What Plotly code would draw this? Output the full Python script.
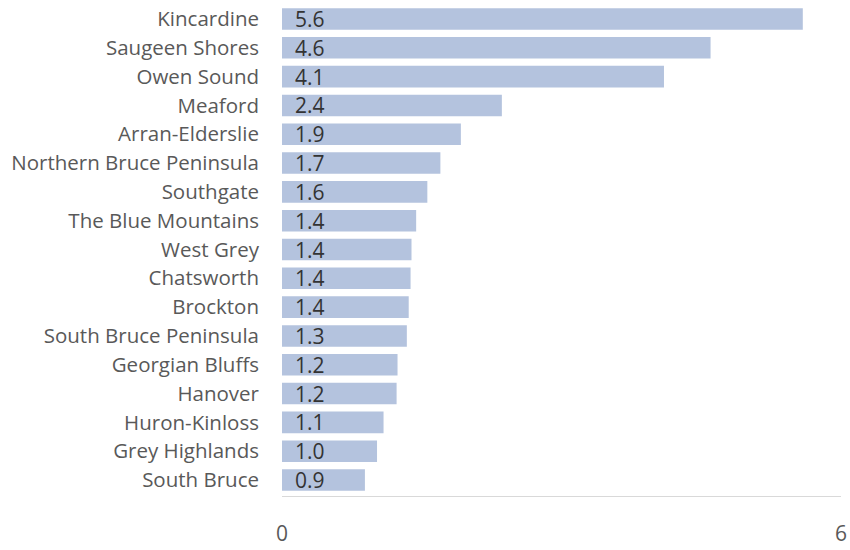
import plotly.graph_objects as go

categories = ["Kincardine", "Saugeen Shores", "Owen Sound", "Meaford", "Arran-Elderslie",
              "Northern Bruce Peninsula", "Southgate", "The Blue Mountains", "West Grey",
              "Chatsworth", "Brockton", "South Bruce Peninsula", "Georgian Bluffs", "Hanover",
              "Huron-Kinloss", "Grey Highlands", "South Bruce"]
values = [5.59, 4.60, 4.10, 2.36, 1.92, 1.70, 1.56, 1.44, 1.39, 1.38, 1.36, 1.34, 1.24, 1.23,
          1.09, 1.02, 0.89]
labels = [f"{v:.1f}" for v in values]
x_ticks = [0, 6]

FONT = "Open Sans"
fig = go.Figure()
fig.add_trace(go.Bar(
    y=categories, x=values, orientation="h",
    marker=dict(color="#b4c3de", line=dict(width=0)),
    hoverinfo="skip",
))
for c, lab in zip(categories, labels):
    fig.add_annotation(x=0, y=c, text=lab, xref="x", yref="y", xanchor="left",
                       xshift=11, showarrow=False,
                       font=dict(family=FONT, size=21, color="#333333"))

fig.update_layout(
    width=850, height=550,
    margin=dict(l=282, r=9, t=3, b=46),
    plot_bgcolor="white", paper_bgcolor="white",
    bargap=0.25, showlegend=False,
)
fig.update_xaxes(range=[0, 6], tickvals=x_ticks, showgrid=False, zeroline=False,
                 showline=True, linecolor="#d9d9d9", linewidth=1,
                 ticks="", ticklabelstandoff=19,
                 tickfont=dict(family=FONT, size=21, color="#595959"))
fig.update_yaxes(autorange="reversed", showgrid=False, zeroline=False, showline=False,
                 ticks="", ticklabelstandoff=22,
                 tickfont=dict(family=FONT, size=20.5, color="#595959"))

fig.write_html("out.html")
